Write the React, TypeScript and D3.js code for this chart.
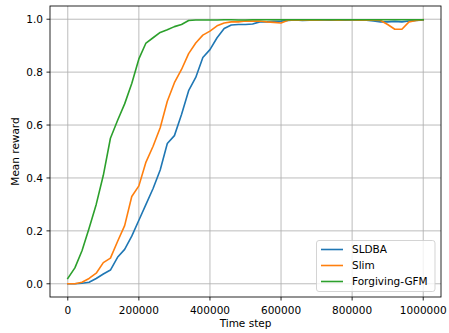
import React from 'react';
import * as d3 from 'd3';

// time steps every 20000
const steps = d3.range(0, 1000001, 20000);

const sldba = [
  0.0, 0.0, 0.002, 0.006, 0.02, 0.037, 0.052, 0.1, 0.13, 0.18,
  0.24, 0.3, 0.36, 0.43, 0.53, 0.56, 0.64, 0.73, 0.78, 0.855,
  0.885, 0.93, 0.965, 0.978, 0.98, 0.98, 0.982, 0.99, 0.99, 0.992,
  0.993, 0.995, 0.997, 0.995, 0.996, 0.997, 0.997, 0.996, 0.997, 0.996,
  0.997, 0.997, 0.996, 0.993, 0.99, 0.99, 0.992, 0.99, 0.993, 0.995,
  0.997,
];

const slim = [
  0.0, 0.0, 0.006, 0.02, 0.04, 0.08, 0.097, 0.16, 0.22, 0.33,
  0.37, 0.46, 0.52, 0.59, 0.69, 0.76, 0.81, 0.87, 0.91, 0.94,
  0.955, 0.975, 0.986, 0.99, 0.99, 0.993, 0.993, 0.993, 0.99, 0.988,
  0.986, 0.996, 0.997, 0.996, 0.997, 0.996, 0.997, 0.997, 0.996, 0.997,
  0.997, 0.996, 0.997, 0.996, 0.995, 0.98, 0.962, 0.962, 0.99, 0.995,
  0.998,
];

const forgiving = [
  0.02, 0.06, 0.125, 0.21, 0.3, 0.41, 0.55, 0.617, 0.68, 0.757,
  0.85, 0.91, 0.93, 0.95, 0.96, 0.972, 0.98, 0.995, 0.997, 0.997,
  0.997, 0.997, 0.998, 0.998, 0.997, 0.997, 0.998, 0.998, 0.998, 0.998,
  0.998, 0.998, 0.998, 0.998, 0.998, 0.998, 0.998, 0.998, 0.998, 0.998,
  0.998, 0.998, 0.998, 0.998, 0.998, 0.998, 0.998, 0.998, 0.998, 0.998,
  0.998,
];

const seriesNames = ['SLDBA', 'Slim', 'Forgiving-GFM'];
const seriesColors = ['#1f77b4', '#ff7f0e', '#2ca02c'];
const xTicks = [0, 200000, 400000, 600000, 800000, 1000000];
const yTicks = [0, 0.2, 0.4, 0.6, 0.8, 1.0];

const W = 449;
const H = 333;
const margin = { left: 50, right: 8, top: 6, bottom: 36 };
const font = '"DejaVu Sans", sans-serif';
const fs = 10.5;

const App: React.FC = () => {
  const x = d3.scaleLinear().domain([-50000, 1050000]).range([margin.left, W - margin.right]);
  const y = d3.scaleLinear().domain([-0.05, 1.05]).range([H - margin.bottom, margin.top]);
  const [x0, x1] = x.range();
  const [y0, y1] = y.range();

  const line = d3
    .line<number>()
    .x((_, i) => x(steps[i]))
    .y(d => y(d));

  const all = [sldba, slim, forgiving];

  // legend placement
  const lgX = 316.5;
  const lgY = 240.5;
  const lgW = 118.5;
  const lgH = 51;
  const rowH = 16;

  return (
    <svg
      width={W}
      height={H}
      style={{ position: 'absolute', left: 0, top: 0, background: '#fff' }}
      fontFamily={font}
      fontSize={fs}
    >
      {/* grid */}
      <g stroke="#b0b0b0" strokeWidth={0.85}>
        {xTicks.map(t => (
          <line key={'gx' + t} x1={x(t)} x2={x(t)} y1={y1} y2={y0} />
        ))}
        {yTicks.map(t => (
          <line key={'gy' + t} x1={x0} x2={x1} y1={y(t)} y2={y(t)} />
        ))}
      </g>

      {/* series */}
      {all.map((vals, i) => (
        <path
          key={seriesNames[i]}
          d={line(vals) || ''}
          fill="none"
          stroke={seriesColors[i]}
          strokeWidth={1.6}
          strokeLinejoin="round"
          strokeLinecap="square"
        />
      ))}

      {/* frame */}
      <rect x={x0} y={y1} width={x1 - x0} height={y0 - y1} fill="none" stroke="#000" strokeWidth={0.85} />

      {/* x axis */}
      {xTicks.map(t => (
        <g key={'xt' + t}>
          <line x1={x(t)} x2={x(t)} y1={y0} y2={y0 + 3.5} stroke="#000" strokeWidth={0.85} />
          <text x={x(t)} y={y0 + 16.5} textAnchor="middle" fill="#000">
            {String(t)}
          </text>
        </g>
      ))}
      <text x={(x0 + x1) / 2} y={326.5} textAnchor="middle" fill="#000">
        Time step
      </text>

      {/* y axis */}
      {yTicks.map(t => (
        <g key={'yt' + t}>
          <line x1={x0 - 3.5} x2={x0} y1={y(t)} y2={y(t)} stroke="#000" strokeWidth={0.85} />
          <text x={x0 - 7} y={y(t)} dy="0.36em" textAnchor="end" fill="#000">
            {d3.format('.1f')(t)}
          </text>
        </g>
      ))}
      <text
        transform={`translate(18.5,${(y0 + y1) / 2}) rotate(-90)`}
        textAnchor="middle"
        fill="#000"
      >
        Mean reward
      </text>

      {/* legend */}
      <rect x={lgX} y={lgY} width={lgW} height={lgH} rx={2.5} fill="#fff" fillOpacity={0.8} stroke="#cccccc" strokeWidth={0.85} />
      {seriesNames.map((name, i) => {
        const cy = lgY + 9 + i * rowH;
        return (
          <g key={'lg' + name}>
            <line x1={lgX + 4.5} x2={lgX + 26.5} y1={cy} y2={cy} stroke={seriesColors[i]} strokeWidth={1.6} />
            <text x={lgX + 35.5} y={cy} dy="0.36em" fill="#000">
              {name}
            </text>
          </g>
        );
      })}
    </svg>
  );
};

export default App;
